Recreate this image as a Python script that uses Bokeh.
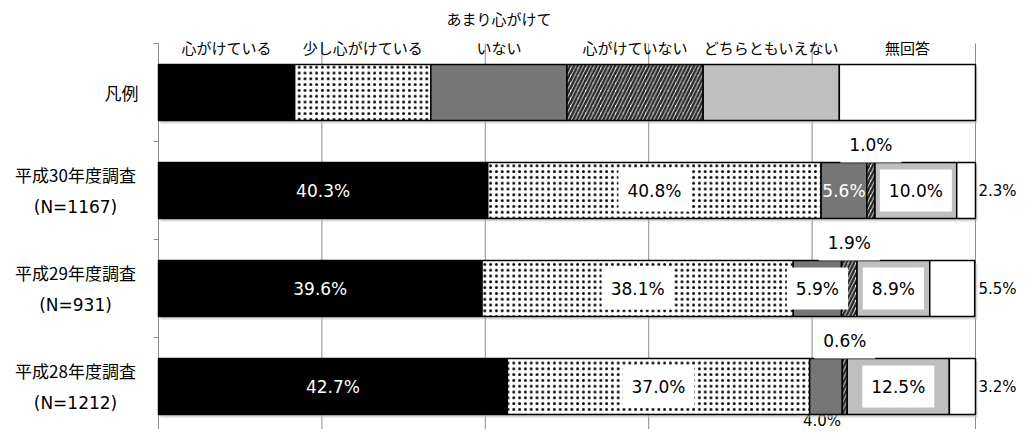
from bokeh.plotting import figure
from bokeh.models import ColumnDataSource, Range1d
from bokeh.core.properties import value
from bokeh.embed import file_html
from bokeh.resources import INLINE

# ---------------- data ----------------
surveys = ["平成28年度調査", "平成29年度調査", "平成30年度調査"]
sample_sizes = ["(N=1212)", "(N=931)", "(N=1167)"]
legend_title = "凡例"
series_names = ["心がけている", "少し心がけている", "あまり心がけて\nいない",
                "心がけていない", "どちらともいえない", "無回答"]
kokorogakete_iru = [42.7, 39.6, 40.3]
sukoshi_kokorogakete_iru = [37.0, 38.1, 40.8]
amari_kokorogakete_inai = [4.0, 5.9, 5.6]
kokorogakete_inai = [0.6, 1.9, 1.0]
dochira_tomo_ienai = [12.5, 8.9, 10.0]
mukaitou = [3.2, 5.5, 2.3]
x_ticks = [0, 20, 40, 60, 80, 100]

series_values = [kokorogakete_iru, sukoshi_kokorogakete_iru, amari_kokorogakete_inai,
                 kokorogakete_inai, dochira_tomo_ienai, mukaitou]

# ---------------- layout / style ----------------
W, H = 1018, 429
PX_X = 8.17          # pixels per percent
PX_Y = 98.0          # pixels per category row
X0_PX = 158          # canvas x of 0 %
TOP_PX = 43          # canvas y of top of plot area
ROW_H = 56 / PX_Y
rows = [0, 1, 2]
legend_row = 3

x_start = -X0_PX / PX_X
x_end = (W - X0_PX) / PX_X
y_end = 3.5 + TOP_PX / PX_Y
y_start = y_end - H / PX_Y

fills = ["#000000", "#ffffff", "#767676", "#ffffff", "#bfbfbf", "#ffffff"]
hatch = [dict(),
         dict(hatch_pattern="dot", hatch_color="#000000", hatch_scale=5.8, hatch_weight=0.9),
         dict(),
         dict(hatch_pattern="right_diagonal_line", hatch_color="#2a2a2a", hatch_scale=7.5, hatch_weight=2.6),
         dict(),
         dict()]
modes = [["white", "white", "white"],
         ["box", "box", "box"],
         ["below", "box", "white"],
         ["above", "above", "above"],
         ["box", "box", "box"],
         ["right", "right", "right"]]

CJK = value("Noto Sans CJK JP")
LAT = value("DejaVu Sans")

p = figure(width=W, height=H, output_backend="svg", toolbar_location=None,
           x_range=Range1d(x_start, x_end), y_range=Range1d(y_start, y_end),
           x_axis_type=None, y_axis_type=None, min_border=0,
           outline_line_color=None, background_fill_color="white",
           border_fill_color="white")

# grid lines & axis
grid_x = [t for t in x_ticks if t > 0]
p.segment(x0=grid_x, y0=[-0.5] * len(grid_x), x1=grid_x, y1=[3.5] * len(grid_x),
          line_color="#8c8c8c", line_width=1)
p.segment(x0=[0], y0=[-0.5], x1=[0], y1=[3.5], line_color="#8c8c8c", line_width=1)
bounds = [r - 0.5 for r in rows] + [2.5, 3.5]
p.segment(x0=[-5 / PX_X] * len(bounds), y0=bounds, x1=[0] * len(bounds), y1=bounds,
          line_color="#8c8c8c", line_width=1)

# compute label positions
n = len(series_names)
lefts = [0.0] * len(rows)
seg_lefts, seg_rights = [], []
label_groups = {k: dict(x=[], y=[], text=[]) for k in ["white", "box", "above", "below", "right"]}
for i, vals in enumerate(series_values):
    rights = [l + v for l, v in zip(lefts, vals)]
    seg_lefts.append(lefts)
    seg_rights.append(rights)
    for j, r in enumerate(rows):
        m = modes[i][j]
        cx = lefts[j] + vals[j] / 2
        cy = r
        if m == "above":
            cy = r + 46 / PX_Y
        elif m == "below":
            cx = cx - 4 / PX_X
            cy = r - 34 / PX_Y
        elif m == "right":
            cx = 100 + 3 / PX_X
        g = label_groups[m]
        g["x"].append(cx)
        g["y"].append(cy)
        g["text"].append(f"{vals[j]:.1f}%")
    lefts = rights

common = dict(text_font=LAT, text_font_size="17px", text_baseline="middle")

# label below the bar (drawn under the bars so its box only hides the grid line)
p.text(x="x", y="y", text="text", source=ColumnDataSource(label_groups["below"]),
       text_color="#000000", text_align="center", background_fill_color="#ffffff",
       padding=(9, 8), text_font=LAT, text_font_size="15px", text_baseline="middle")

# shadows
p.hbar(y=[r - 3 / PX_Y for r in rows + [legend_row]], left=[2 / PX_X] * 4,
       right=[100 + 2 / PX_X] * 4, height=ROW_H, fill_color="#bdbdbd",
       fill_alpha=0.55, line_color=None)

# legend row
for i in range(n):
    p.hbar(y=[legend_row], left=[i * 100 / n], right=[(i + 1) * 100 / n], height=ROW_H,
           fill_color=fills[i], line_color="#000000", line_width=1.5, **hatch[i])

# data bars
for i in range(n):
    p.hbar(y=rows, left=seg_lefts[i], right=seg_rights[i], height=ROW_H, fill_color=fills[i],
           line_color="#000000", line_width=1.5, **hatch[i])

p.text(x="x", y="y", text="text", source=ColumnDataSource(label_groups["white"]),
       text_color="#ffffff", text_align="center", **common)
p.text(x="x", y="y", text="text", source=ColumnDataSource(label_groups["box"]),
       text_color="#000000", text_align="center", background_fill_color="#ffffff",
       padding=(9, 11), **common)
p.text(x="x", y="y", text="text", source=ColumnDataSource(label_groups["above"]),
       text_color="#000000", text_align="center", background_fill_color="#ffffff",
       padding=(9, 8), **common)
p.text(x="x", y="y", text="text", source=ColumnDataSource(label_groups["right"]),
       text_color="#000000", text_align="left", text_font=LAT, text_font_size="15px",
       text_baseline="middle")

# legend header labels
hx, hy, ht = [], [], []
for i, name in enumerate(series_names):
    lines = name.split("\n")
    for k, line in enumerate(reversed(lines)):
        hx.append((i + 0.5) * 100 / n)
        hy.append(legend_row + (45 + k * 29.5) / PX_Y)
        ht.append(line)
p.text(x=hx, y=hy, text=ht, text_font=CJK, text_font_size="15px",
       text_align="center", text_baseline="middle", text_color="#000000")

# category labels
cat_x = -(158 - 75) / PX_X
p.text(x=[cat_x] * len(rows), y=[r + 16 / PX_Y for r in rows], text=surveys,
       text_font=CJK, text_font_size="17px", text_align="center",
       text_baseline="middle", text_color="#000000")
p.text(x=[cat_x] * len(rows), y=[r - 16 / PX_Y for r in rows], text=sample_sizes,
       text_font=LAT, text_font_size="17px", text_align="center",
       text_baseline="middle", text_color="#000000")
p.text(x=[-20 / PX_X], y=[legend_row], text=[legend_title], text_font=CJK,
       text_font_size="17px", text_align="right", text_baseline="middle",
       text_color="#000000")

open("out.html", "w").write(file_html(p, INLINE))
